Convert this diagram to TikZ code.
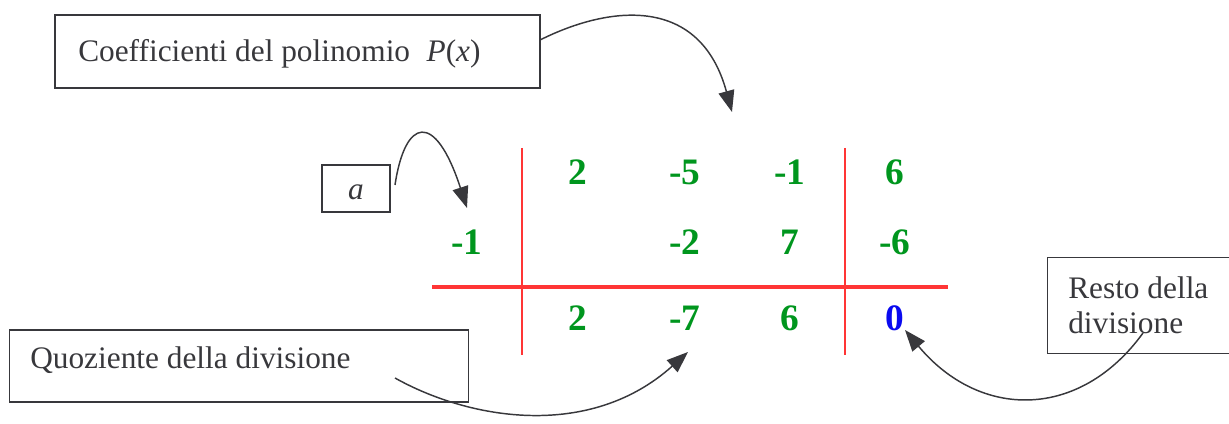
\documentclass[tikz,border=0pt]{standalone}
\usepackage{fontspec}
\setmainfont{Liberation Serif}
\usetikzlibrary{arrows.meta}
\definecolor{ink}{HTML}{38383C}
\definecolor{numgreen}{HTML}{00961E}
\definecolor{numblue}{HTML}{0A0AF0}
\definecolor{rulered}{HTML}{FF3535}
\tikzset{
  labelbox/.style={draw=ink, line width=1.1pt, inner sep=0pt},
  labeltext/.style={inner sep=0pt, text=ink, font=\fontsize{23.5}{27}\selectfont},
  num/.style={inner sep=0pt, text=numgreen, font=\fontsize{28}{30}\selectfont\bfseries},
  callout/.style={draw=ink, line width=1.1pt, -{Triangle[length=16pt,width=12pt]}},
  tablerule/.style={draw=rulered, line width=1.4pt},
}
\begin{document}
\begin{tikzpicture}[x=0.75pt,y=-0.75pt]
\useasboundingbox (0,0) rectangle (1229,424);
% label boxes
\node[labelbox, minimum width=363.75pt, minimum height=54.75pt] (coef) at (297.5,51.5) {};
\node[labeltext, anchor=base west] (coeftxt) at (78,62) {Coefficienti del polinomio\; \textit{P}(\textit{x})};
\node[labelbox, minimum width=51pt, minimum height=35.25pt] (abox) at (356,188.5) {};
\node[labeltext, anchor=base] (atxt) at (356,200) {\textit{a}};
\node[labelbox, minimum width=344.25pt, minimum height=54pt] (quo) at (239,366) {};
\node[labeltext, anchor=base west] (quotxt) at (30,368) {Quoziente della divisione};
\node[labelbox, minimum width=150pt, minimum height=72pt, anchor=north west] (resto) at (1047,257) {};
\node[labeltext, anchor=base west] (restotxt1) at (1068,298) {Resto della};
\node[labeltext, anchor=base west] (restotxt2) at (1068,334) {divisione};
% table rules
\coordinate (v1t) at (522,148); \coordinate (v1b) at (522,355);
\coordinate (v2t) at (845,148); \coordinate (v2b) at (845,355);
\coordinate (hl) at (432,287); \coordinate (hr) at (948,287);
\draw[tablerule] (v1t) -- (v1b);
\draw[tablerule] (v2t) -- (v2b);
\draw[tablerule, line width=3pt] (hl) -- (hr);
% numbers
\node[num] (n12) at (578,172) {2};
\node[num] (n13) at (685,172) {-5};
\node[num] (n14) at (790,172) {-1};
\node[num] (n15) at (895,172) {6};
\node[num] (n21) at (467,242) {-1};
\node[num] (n23) at (685,242) {-2};
\node[num] (n24) at (790,242) {7};
\node[num] (n25) at (895,242) {-6};
\node[num] (n32) at (578,318) {2};
\node[num] (n33) at (685,318) {-7};
\node[num] (n34) at (790,318) {6};
\node[num, text=numblue] (n35) at (895,318) {0};
% callout arrows
\coordinate (c1s) at (540,40);
\coordinate (c1e) at (732,112);
\draw[callout] (c1s) .. controls (610,5) and (700,-5) .. (c1e);
\coordinate (c2s) at (395,185);
\coordinate (c2e) at (467,208);
\draw[callout] (c2s) .. controls (405,118) and (435,110) .. (c2e);
\coordinate (c3s) at (395,378);
\coordinate (c3e) at (688,352);
\draw[callout] (c3s) .. controls (470,420) and (590,440) .. (c3e);
\coordinate (c4s) at (1143,333);
\coordinate (c4e) at (905,330);
\draw[callout] (c4s) .. controls (1080,420) and (980,420) .. (c4e);
\end{tikzpicture}
\end{document}
